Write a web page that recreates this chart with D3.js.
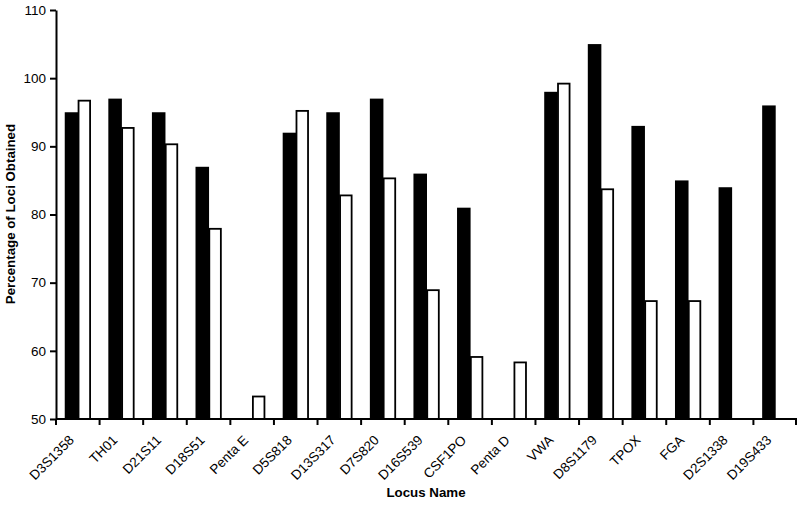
<!DOCTYPE html>
<html>
<head>
<meta charset="utf-8">
<script src="https://cdn.jsdelivr.net/npm/d3@7"></script>
<style>
  body { margin: 0; background: #fff; }
  svg { display: block; font-family: "Liberation Sans", Arial, sans-serif; }
</style>
</head>
<body>
<svg id="chart" width="797" height="508"></svg>
<script>
// locus names along the x axis
const loci = ["D3S1358", "TH01", "D21S11", "D18S51", "Penta E", "D5S818", "D13S317",
  "D7S820", "D16S539", "CSF1PO", "Penta D", "VWA", "D8S1179", "TPOX", "FGA",
  "D2S1338", "D19S433"];

// black series (null = no bar)
const blackValues = [95, 97, 95, 87, null, 92, 95, 97, 86, 81, null, 98, 105, 93, 85, 84, 96];
// white series
const whiteValues = [96.7, 92.7, 90.3, 77.9, 53.3, 95.2, 82.8, 85.3, 68.9, 59.1, 58.3, 99.2, 83.7, 67.3, 67.3, null, null];

const yTicks = [50, 60, 70, 80, 90, 100, 110];

const svg = d3.select("#chart");
const plotLeft = 56, plotRight = 797, plotTop = 10, plotBottom = 419;

let x = d3.scaleBand().domain(loci).range([plotLeft, plotRight]).padding(0);
let xSub = d3.scaleBand().domain(["black", "white"]).range([0, x.bandwidth()])
  .paddingInner(0).paddingOuter(0.67);
let y = d3.scaleLinear().domain([50, 110]).range([plotBottom, plotTop]);

// bars
loci.forEach((name, i) => {
  let g = svg.append("g").attr("transform", `translate(${x(name)},0)`);
  if (blackValues[i] != null) {
    g.append("rect")
      .attr("x", xSub("black"))
      .attr("y", y(blackValues[i]))
      .attr("width", xSub.bandwidth() + 0.5)
      .attr("height", plotBottom - y(blackValues[i]))
      .attr("fill", "#000");
  }
  if (whiteValues[i] != null) {
    g.append("rect")
      .attr("x", xSub("white") + 0.75)
      .attr("y", y(whiteValues[i]))
      .attr("width", xSub.bandwidth() - 1.5)
      .attr("height", plotBottom - y(whiteValues[i]))
      .attr("fill", "#fff")
      .attr("stroke", "#000")
      .attr("stroke-width", 1.8);
  }
});

// y axis
let yAxis = svg.append("g")
  .attr("transform", `translate(${plotLeft},0)`)
  .call(d3.axisLeft(y).tickValues(yTicks).tickSize(6).tickSizeOuter(0).tickPadding(4));
yAxis.select(".domain").attr("stroke-width", 2);
yAxis.selectAll(".tick line").attr("stroke-width", 2);
yAxis.selectAll("text").attr("font-size", 13.5).attr("fill", "#000")
  .attr("font-family", "Liberation Sans, Arial, sans-serif");

// x axis: ticks between categories
let xAxis = svg.append("g").attr("transform", `translate(0,${plotBottom})`);
xAxis.append("line")
  .attr("x1", plotLeft).attr("x2", plotRight)
  .attr("stroke", "#000").attr("stroke-width", 2);
xAxis.selectAll("line.tick")
  .data(loci)
  .join("line")
  .attr("class", "tick")
  .attr("x1", d => x(d)).attr("x2", d => x(d))
  .attr("y1", 0).attr("y2", 6)
  .attr("stroke", "#000").attr("stroke-width", 2);
xAxis.append("line")
  .attr("x1", plotRight - 1).attr("x2", plotRight - 1)
  .attr("y1", 0).attr("y2", 6)
  .attr("stroke", "#000").attr("stroke-width", 2);

xAxis.selectAll("text")
  .data(loci)
  .join("text")
  .attr("text-anchor", "end")
  .attr("font-size", 13.5)
  .attr("transform", d => `translate(${x(d) + x.bandwidth() / 2 - 3},${22}) rotate(-45)`)
  .text(d => d);

// axis titles
svg.append("text")
  .attr("x", 426).attr("y", 497)
  .attr("text-anchor", "middle")
  .attr("font-size", 13.3).attr("font-weight", "bold")
  .text("Locus Name");

svg.append("text")
  .attr("transform", "translate(15,214) rotate(-90)")
  .attr("text-anchor", "middle")
  .attr("font-size", 13.3).attr("font-weight", "bold")
  .text("Percentage of Loci Obtained");
</script>
</body>
</html>
